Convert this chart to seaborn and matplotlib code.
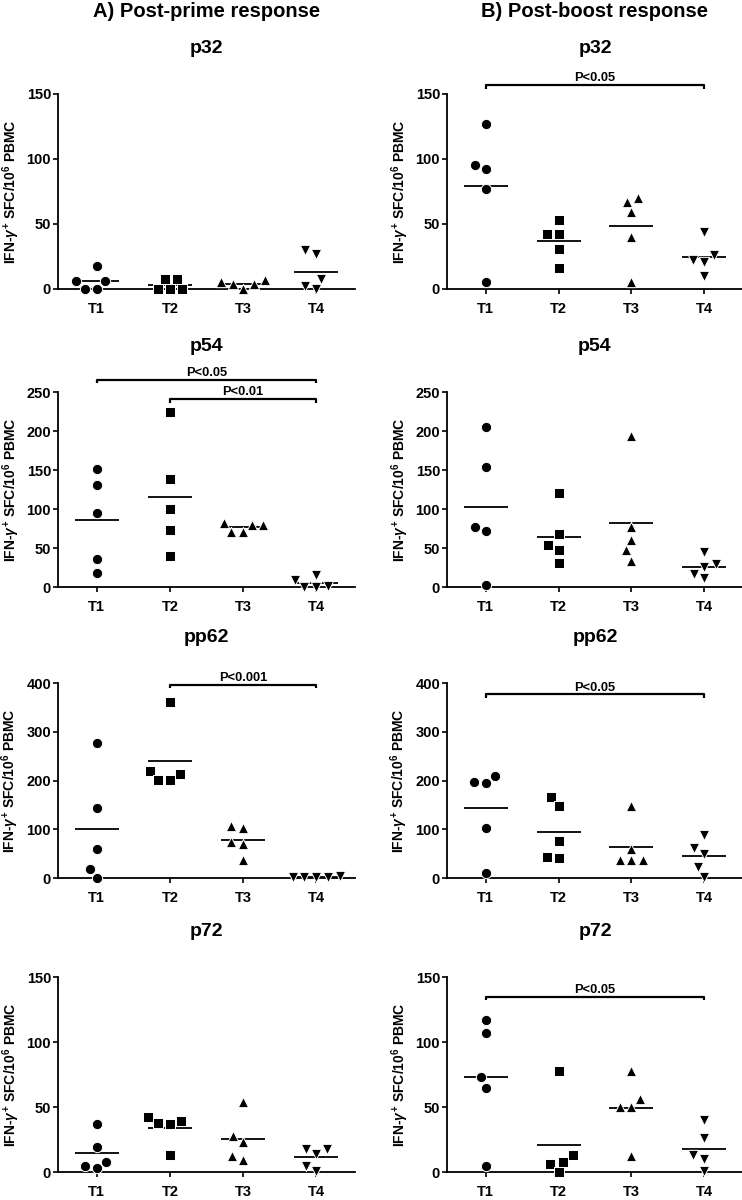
import pandas as pd
import seaborn as sns
import matplotlib.pyplot as plt

TIMES = ["T1", "T2", "T3", "T4"]
MARKERS = ["o", "s", "^", "v"]
PEPTIDES = ["p32", "p54", "pp62", "p72"]
YMAX = {"p32": 150, "p54": 250, "pp62": 400, "p72": 150}
YSTEP = {"p32": 50, "p54": 50, "pp62": 100, "p72": 50}

# IFN-gamma SFC per 10^6 PBMC, five animals per time point (T1..T4)
prime_p32 = [[18, 6, 6, 0, 0], [8, 8, 0, 0, 0], [7, 5, 4, 4, 0], [30, 27, 8, 2, 0]]
prime_p54 = [[151, 131, 95, 36, 18], [225, 138, 100, 73, 40], [82, 80, 80, 71, 70], [15, 9, 1, 0, 0]]
prime_pp62 = [[276, 143, 60, 19, 0], [361, 219, 213, 202, 201], [107, 103, 74, 70, 38], [4, 2, 2, 2, 2]]
prime_p72 = [[37, 19, 8, 5, 3], [42, 39, 38, 37, 13], [54, 28, 23, 12, 9], [18, 18, 14, 5, 1]]

boost_p32 = [[127, 95, 92, 77, 5], [53, 42, 42, 31, 16], [70, 67, 59, 40, 5], [44, 26, 22, 21, 10]]
boost_p54 = [[205, 154, 77, 72, 2], [120, 68, 54, 48, 31], [194, 77, 60, 47, 34], [45, 30, 26, 17, 11]]
boost_pp62 = [[209, 198, 194, 102, 11], [166, 148, 76, 43, 41], [148, 60, 37, 37, 36], [88, 61, 49, 22, 2]]
boost_p72 = [[117, 107, 73, 65, 5], [78, 13, 8, 6, 0], [78, 56, 50, 50, 12], [40, 26, 13, 10, 1]]

# significance brackets: (from, to, bracket height, label)
prime_brackets = {"p54": [(0, 3, 266, "P<0.05"), (1, 3, 241, "P<0.01")],
                  "pp62": [(1, 3, 397, "P<0.001")]}
boost_brackets = {"p32": [(0, 3, 157, "P<0.05")],
                  "pp62": [(0, 3, 377, "P<0.05")],
                  "p72": [(0, 3, 135, "P<0.05")]}

COLUMNS = [
    ("A) Post-prime response",
     dict(zip(PEPTIDES, [prime_p32, prime_p54, prime_pp62, prime_p72])), prime_brackets),
    ("B) Post-boost response",
     dict(zip(PEPTIDES, [boost_p32, boost_p54, boost_pp62, boost_p72])), boost_brackets),
]

sns.set_style("ticks")
plt.rcParams["font.family"] = ["Liberation Sans", "DejaVu Sans"]
plt.rcParams["font.weight"] = "bold"
plt.rcParams["mathtext.fontset"] = "custom"
plt.rcParams["mathtext.rm"] = "Liberation Sans:bold"
plt.rcParams["mathtext.it"] = "Liberation Sans:italic:bold"
plt.rcParams["mathtext.bf"] = "Liberation Sans:bold"
for key in ["text.color", "axes.labelcolor", "xtick.color", "ytick.color", "axes.edgecolor"]:
    plt.rcParams[key] = "black"

fig = plt.figure(figsize=(7.42, 12), dpi=100)

col_x = [(0.0782, 0.4003), (0.6024, 0.3989)]
row_y = [0.7592, 0.5108, 0.2683, 0.0233]
row_h = 0.1625


def to_frame(groups):
    rows = []
    for t, vals in zip(TIMES, groups):
        for v in vals:
            rows.append({"time": t, "value": v})
    return pd.DataFrame(rows)


for c, (header, data, brackets) in enumerate(COLUMNS):
    x0, w = col_x[c]
    for r, pep in enumerate(PEPTIDES):
        ax = fig.add_axes([x0, row_y[r], w, row_h])
        df = to_frame(data[pep])

        for t, m in zip(TIMES, MARKERS):
            sns.swarmplot(data=df[df["time"] == t], x="time", y="value", order=TIMES,
                          marker=m, color="black", size=7.4, linewidth=0.7,
                          edgecolor="white", clip_on=False, ax=ax)

        sns.pointplot(data=df, x="time", y="value", order=TIMES, estimator="mean",
                      errorbar=None, color="black", markers="_", linestyles="none",
                      markersize=32, markeredgewidth=1.3, ax=ax)

        ymax = YMAX[pep]
        ax.set_ylim(0, ymax)
        ax.set_yticks(range(0, ymax + 1, YSTEP[pep]))
        ax.set_xlim(-0.53, 3.53)
        ax.set_xticks(range(4))
        ax.set_xticklabels(TIMES)
        ax.set_xlabel("")
        ax.set_ylabel(r"IFN-$\gamma^{+}$ SFC/10$^{6}$ PBMC", fontsize=10,
                      fontweight="bold", labelpad=3.5)
        sns.despine(ax=ax)
        for s in ["left", "bottom"]:
            ax.spines[s].set_linewidth(1.3)
        ax.tick_params(axis="y", length=3.5, width=1.2, pad=1.5, labelsize=10.5)
        ax.tick_params(axis="x", length=3.5, width=1.2, pad=6, labelsize=10.5)

        ax.annotate(pep, xy=(0.5, 1), xycoords="axes fraction", xytext=(0, 32.5),
                    textcoords="offset points", ha="center", va="center",
                    fontsize=14, fontweight="bold")
        if r == 0:
            ax.annotate(header, xy=(0.5, 1), xycoords="axes fraction", xytext=(0, 59.5),
                        textcoords="offset points", ha="center", va="center",
                        fontsize=14.5, fontweight="bold")

        d = ymax * 0.02
        for i, j, yb, label in brackets.get(pep, []):
            ax.plot([i, i, j, j], [yb - d, yb, yb, yb - d], color="black", lw=1.6,
                    clip_on=False, solid_capstyle="butt")
            ax.annotate(label, xy=((i + j) / 2, yb), xytext=(0, 0.5),
                        textcoords="offset points", ha="center", va="bottom",
                        fontsize=9.3, fontweight="bold", annotation_clip=False)

fig.savefig("out.png", dpi=100)
